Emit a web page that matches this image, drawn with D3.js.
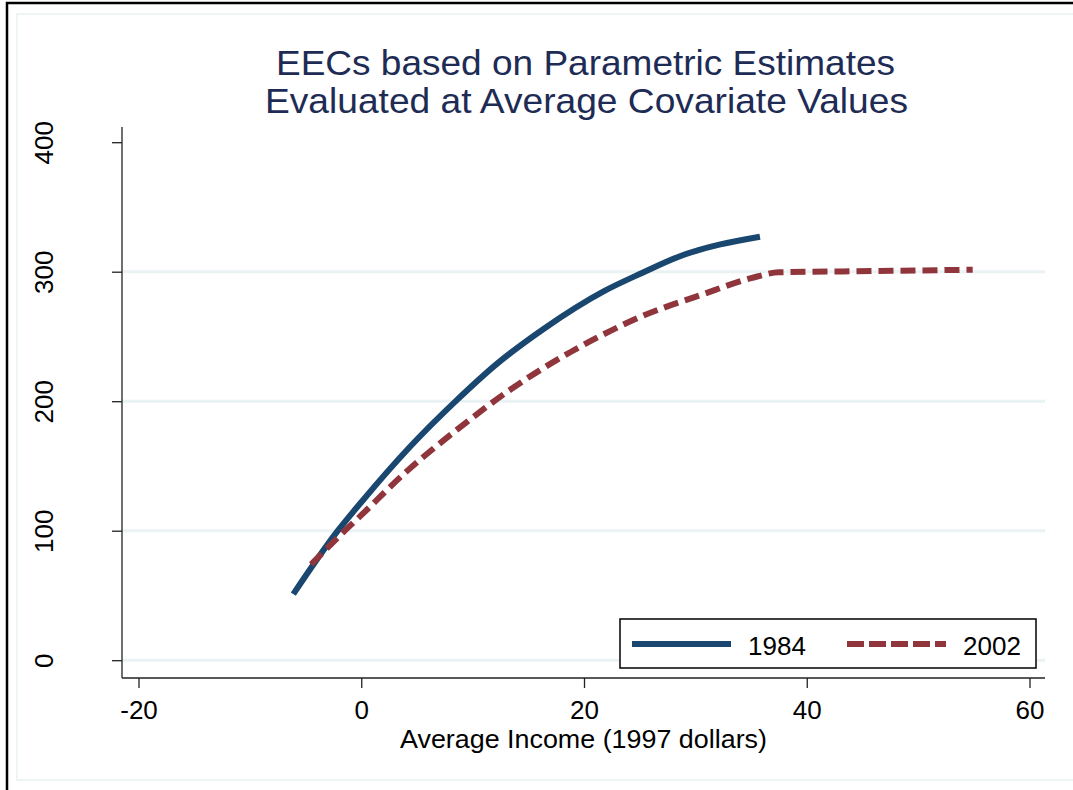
<!DOCTYPE html>
<html>
<head>
<meta charset="utf-8">
<script src="https://cdn.jsdelivr.net/npm/d3@7"></script>
<style>
  body { margin: 0; background: #fff; }
  svg { display: block; font-family: "Liberation Sans", Arial, sans-serif; }
</style>
</head>
<body>
<svg id="chart" width="1073" height="790"></svg>
<script>
// values
var titleLines = ['EECs based on Parametric Estimates', 'Evaluated at Average Covariate Values']
var xTitle = 'Average Income (1997 dollars)'
var xTicks = [-20, 0, 20, 40, 60]
var yTicks = [0, 100, 200, 300, 400]
var gridValues = [0, 100, 200, 300]

var income1984 = [-6.1, -2.1, 0, 4.4, 8.6, 12.2, 16.4, 21.8, 25.2, 28.5, 35.8]
var eec1984 = [51, 100, 122, 165, 201, 229, 256, 285, 299, 311.6, 327]

var income2002 = [-4.5, -1.6, 0, 4.1, 8.6, 13.4, 18.8, 21.5, 25.3, 30.5, 35, 37.5, 46, 54.9]
var eec2002 = [74, 99, 112, 146, 178, 209, 238, 250.5, 266, 282, 295, 299.5, 300.5, 301.5]

var series = [
    { name: '1984', x: income1984, y: eec1984, color: '#1a476f', dash: null },
    { name: '2002', x: income2002, y: eec2002, color: '#90353b', dash: '15,7' }
]

var svg = d3.select('#chart')

var x = d3.scaleLinear().domain([-20, 60]).range([138.5, 1029.5])
var y = d3.scaleLinear().domain([0, 400]).range([660.2, 142.2])

var plotLeft = 122, plotRight = 1045, plotTop = 127, plotBottom = 678

// outer frame
svg.append('rect')
    .attr('x', 17).attr('y', 14).attr('width', 1080).attr('height', 766)
    .attr('fill', 'none').attr('stroke', '#eaf1f2').attr('stroke-width', 1.5)
svg.append('rect')
    .attr('x', 7).attr('y', 3).attr('width', 1100).attr('height', 800)
    .attr('fill', 'none').attr('stroke', '#000').attr('stroke-width', 2.5)

// title
var titleWidths = [619, 643]
svg.selectAll('.title')
    .data(titleLines)
    .enter().append('text')
    .attr('class', 'title')
    .attr('x', function(d, i) { return i ? 586.5 : 585.5 })
    .attr('y', function(d, i) { return 75 + i * 37.7 })
    .attr('text-anchor', 'middle')
    .attr('font-size', 35)
    .attr('fill', '#1e2c55')
    .attr('textLength', function(d, i) { return titleWidths[i] })
    .attr('lengthAdjust', 'spacingAndGlyphs')
    .text(function(d) { return d })

// grid
svg.selectAll('.grid')
    .data(gridValues)
    .enter().append('line')
    .attr('x1', plotLeft).attr('x2', plotRight)
    .attr('y1', function(d) { return y(d) })
    .attr('y2', function(d) { return y(d) })
    .attr('stroke', '#eaf2f3')
    .attr('stroke-width', 3)

// axes
var yAxis = svg.append('g')
    .attr('transform', 'translate(' + plotLeft + ',0)')
    .call(d3.axisLeft(y).tickValues(yTicks).tickSize(10).tickFormat(d3.format('d')))
yAxis.select('.domain')
    .attr('d', 'M0,' + plotTop + 'V' + plotBottom)
    .attr('stroke', '#222').attr('stroke-width', 1.3)
yAxis.selectAll('line').attr('stroke', '#222').attr('stroke-width', 1.3)
yAxis.selectAll('text')
    .attr('font-size', 26)
    .attr('fill', '#000')
    .attr('font-family', '"Liberation Sans", Arial, sans-serif')
    .attr('text-anchor', 'middle')
    .attr('dy', null)
    .attr('x', null)
    .attr('transform', 'translate(-69,0) rotate(-90)')

var xAxis = svg.append('g')
    .attr('transform', 'translate(0,' + plotBottom + ')')
    .call(d3.axisBottom(x).tickValues(xTicks).tickSize(10).tickFormat(d3.format('d')))
xAxis.select('.domain')
    .attr('d', 'M' + plotLeft + ',0H' + plotRight)
    .attr('stroke', '#222').attr('stroke-width', 1.3)
xAxis.selectAll('line').attr('stroke', '#222').attr('stroke-width', 1.3)
xAxis.selectAll('text')
    .attr('font-size', 26)
    .attr('fill', '#000')
    .attr('font-family', '"Liberation Sans", Arial, sans-serif')
    .attr('dy', null)
    .attr('y', 41)
    .text(function(d) { return d < 0 ? '-' + Math.abs(d) : d })

svg.append('text')
    .attr('x', 583.5)
    .attr('y', 748)
    .attr('text-anchor', 'middle')
    .attr('font-size', 26)
    .attr('textLength', 367)
    .attr('lengthAdjust', 'spacingAndGlyphs')
    .text(xTitle)

// lines
var line = d3.line()
    .x(function(d) { return x(d[0]) })
    .y(function(d) { return y(d[1]) })
    .curve(d3.curveMonotoneX)

series.forEach(function(s) {
    var pts = s.x.map(function(v, i) { return [v, s.y[i]] })
    svg.append('path')
        .datum(pts)
        .attr('d', line)
        .attr('fill', 'none')
        .attr('stroke', s.color)
        .attr('stroke-width', 6)
        .attr('stroke-dasharray', s.dash)
})

// legend
var legend = svg.append('g')
legend.append('rect')
    .attr('x', 620).attr('y', 619).attr('width', 416).attr('height', 49)
    .attr('fill', '#fff').attr('stroke', '#000').attr('stroke-width', 1.5)

var legendX = [632, 847]
series.forEach(function(s, i) {
    legend.append('line')
        .attr('x1', legendX[i]).attr('x2', legendX[i] + 99)
        .attr('y1', 644).attr('y2', 644)
        .attr('stroke', s.color)
        .attr('stroke-width', 6)
        .attr('stroke-dasharray', s.dash ? '17,5' : null)
    legend.append('text')
        .attr('x', legendX[i] + 116)
        .attr('y', 655)
        .attr('font-size', 26)
        .text(s.name)
})
</script>
</body>
</html>
